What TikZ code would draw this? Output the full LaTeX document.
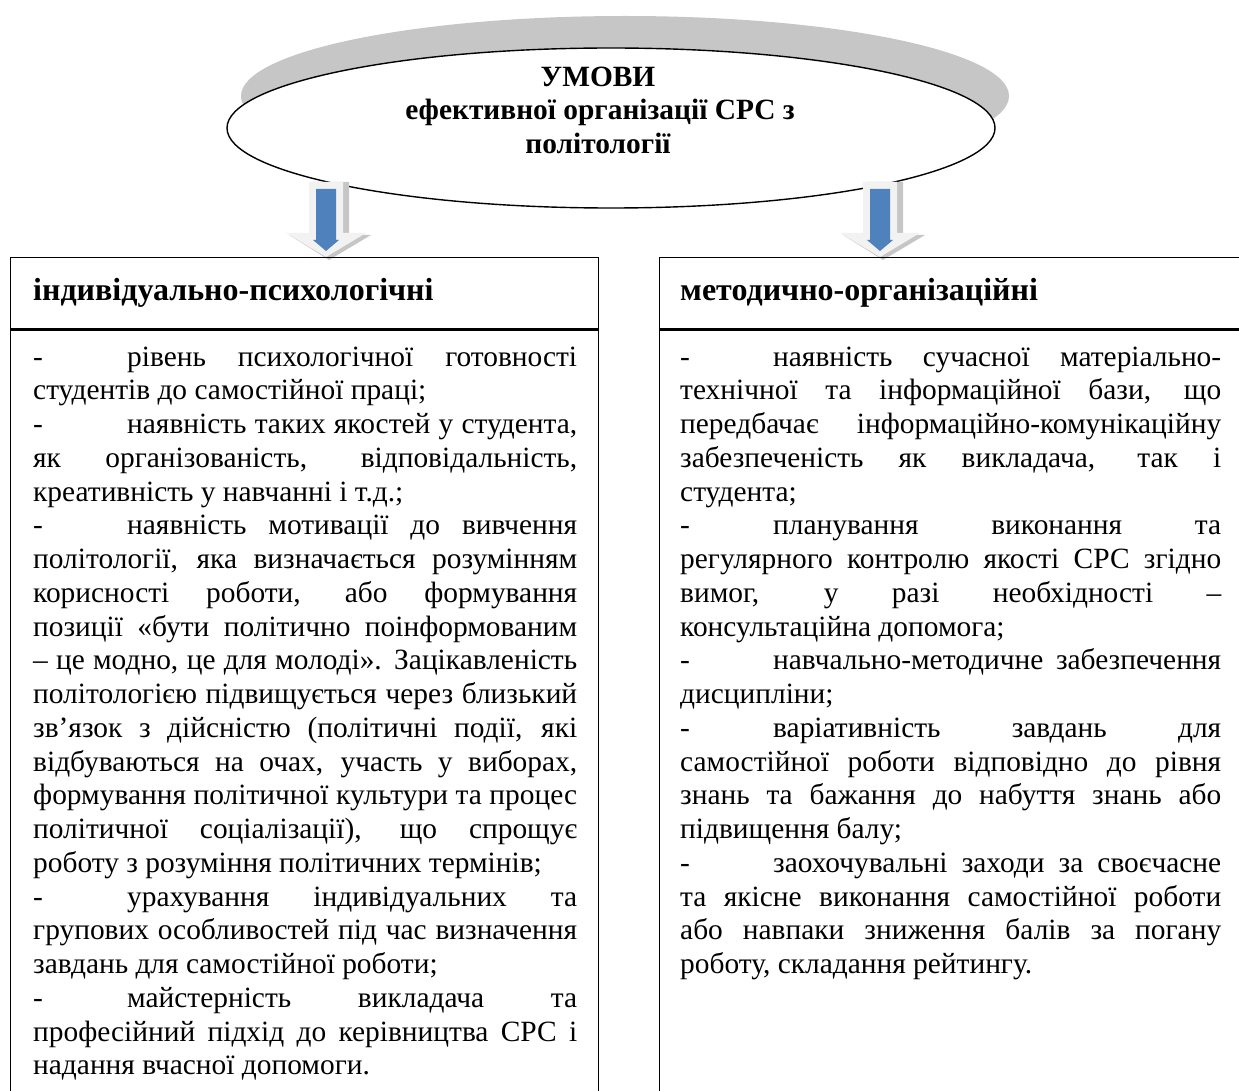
\documentclass[tikz,border=0pt]{standalone}
\usepackage{fontspec}
\setmainfont{Liberation Serif}
\usetikzlibrary{shapes.geometric,calc}
\definecolor{arrowblue}{HTML}{4F81BD}
\definecolor{arrowlight}{HTML}{F2F2F2}
\newcommand\bodyfont{\fontsize{29.4}{34}\selectfont}
\newcommand\headfont{\fontsize{32}{36}\selectfont\bfseries}
\newcommand\yb{366}
\newcommand\ls{33.76}
% justified line: name, x, index, width, text
\newcommand\linej[5]{\node[txt] (#1) at (#2,{\yb+(#3-1)*\ls}) {\makebox[#4][s]{#5}};}
% last (ragged) line: name, x, index, text
\newcommand\linel[4]{\node[txt] (#1) at (#2,{\yb+(#3-1)*\ls}) {#4};}
% dash line: name, dash x, tab x, index, width, text
\newcommand\lined[6]{\node[txt] (#1d) at (#2,{\yb+(#4-1)*\ls}) {-};
  \node[txt] (#1) at (#3,{\yb+(#4-1)*\ls}) {\makebox[#5][s]{#6}};}
% block arrow: shadow, light arrow, blue arrow; cx, name
\newcommand\myblockarrow[2]{%
  \coordinate (#2) at (#1,182);
  \fill[shadowgray] ($(#2)+(-14,0)$) -- ++(37,0) -- ++(0,53) -- ++(22,0) -- ++(-42,25) -- ++(-40,-25) -- ++(21,0) -- cycle;
  \fill[arrowlight] ($(#2)+(-17,0)$) -- ++(34,0) -- ++(0,51) -- ++(23,0) -- ++(-40,24) -- ++(-40,-24) -- ++(23,0) -- cycle;
  \fill[arrowblue] ($(#2)+(-10,7)$) -- ++(20,0) -- ++(0,51) -- ++(3,0) -- ++(-13,11) -- ++(-13,-11) -- ++(3,0) -- cycle;}
\begin{document}
\begin{tikzpicture}[x=1pt,y=-1pt,
  txt/.style={anchor=base west,inner sep=0pt,font=\bodyfont},
  head/.style={anchor=base west,inner sep=0pt,font=\headfont},
  ttl/.style={anchor=base,inner sep=0pt,font=\bodyfont\bfseries},
  shadowgray/.style={gray!45},
  frame/.style={draw=black,line width=1.4pt}]
\useasboundingbox (0,0) rectangle (1239,1091);
\clip (0,0) rectangle (1239,1091);
% ellipse with shadow
\node[ellipse,fill=gray!45,minimum width=768pt,minimum height=160pt,inner sep=0pt] (ellsh) at (625,96) {};
\node[ellipse,draw=black,line width=1.4pt,fill=white,minimum width=768pt,minimum height=160pt,inner sep=0pt] (ell) at (611,128) {};
\node[ttl] (t1) at (598,87) {УМОВИ};
\node[ttl] (t2) at (600,120) {ефективної організації СРС з};
\node[ttl] (t3) at (598,154) {політології};
% arrows
\myblockarrow{326}{arL}
\myblockarrow{880}{arR}
% boxes
\node[frame,rectangle,anchor=north west,minimum width=588pt,minimum height=71pt,inner sep=0pt] (lhead) at (10,257) {};
\node[frame,rectangle,anchor=north west,minimum width=588pt,minimum height=780pt,inner sep=0pt] (lbody) at (lhead.south west) {};
\node[frame,rectangle,anchor=north west,minimum width=600pt,minimum height=71pt,inner sep=0pt] (rhead) at (659,257) {};
\node[frame,rectangle,anchor=north west,minimum width=600pt,minimum height=780pt,inner sep=0pt] (rbody) at (rhead.south west) {};
\node[head] (lh) at (33,300) {індивідуально-психологічні};
\node[head] (rh) at (680,300) {методично-організаційні};
% left column
\lined{L1}{33}{127}{1}{450pt}{рівень психологічної готовності}
\linel{L2}{33}{2}{студентів до самостійної праці;}
\lined{L3}{33}{127}{3}{450pt}{наявність таких якостей у студента,}
\linej{L4}{33}{4}{544pt}{як організованість, відповідальність,}
\linel{L5}{33}{5}{креативність у навчанні і т.д.;}
\lined{L6}{33}{127}{6}{450pt}{наявність мотивації до вивчення}
\linej{L7}{33}{7}{544pt}{політології, яка визначається розумінням}
\linej{L8}{33}{8}{544pt}{корисності роботи, або формування}
\linej{L9}{33}{9}{544pt}{позиції «бути політично поінформованим}
\linej{L10}{33}{10}{544pt}{– це модно, це для молоді». Зацікавленість}
\linej{L11}{33}{11}{544pt}{політологією підвищується через близький}
\linej{L12}{33}{12}{544pt}{зв’язок з дійсністю (політичні події, які}
\linej{L13}{33}{13}{544pt}{відбуваються на очах, участь у виборах,}
\linej{L14}{33}{14}{544pt}{формування політичної культури та процес}
\linej{L15}{33}{15}{544pt}{політичної соціалізації), що спрощує}
\linel{L16}{33}{16}{роботу з розуміння політичних термінів;}
\lined{L17}{33}{127}{17}{450pt}{урахування індивідуальних та}
\linej{L18}{33}{18}{544pt}{групових особливостей під час визначення}
\linel{L19}{33}{19}{завдань для самостійної роботи;}
\lined{L20}{33}{127}{20}{450pt}{майстерність викладача та}
\linej{L21}{33}{21}{544pt}{професійний підхід до керівництва СРС і}
\linel{L22}{33}{22}{надання вчасної допомоги.}
% right column
\lined{R1}{680}{773}{1}{448pt}{наявність сучасної матеріально-}
\linej{R2}{680}{2}{541pt}{технічної та інформаційної бази, що}
\linej{R3}{680}{3}{541pt}{передбачає інформаційно-комунікаційну}
\linej{R4}{680}{4}{541pt}{забезпеченість як викладача, так і}
\linel{R5}{680}{5}{студента;}
\lined{R6}{680}{773}{6}{448pt}{планування виконання та}
\linej{R7}{680}{7}{541pt}{регулярного контролю якості СРС згідно}
\linej{R8}{680}{8}{541pt}{вимог, у разі необхідності –}
\linel{R9}{680}{9}{консультаційна допомога;}
\lined{R10}{680}{773}{10}{448pt}{навчально-методичне забезпечення}
\linel{R11}{680}{11}{дисципліни;}
\lined{R12}{680}{773}{12}{448pt}{варіативність завдань для}
\linej{R13}{680}{13}{541pt}{самостійної роботи відповідно до рівня}
\linej{R14}{680}{14}{541pt}{знань та бажання до набуття знань або}
\linel{R15}{680}{15}{підвищення балу;}
\lined{R16}{680}{773}{16}{448pt}{заохочувальні заходи за своєчасне}
\linej{R17}{680}{17}{541pt}{та якісне виконання самостійної роботи}
\linej{R18}{680}{18}{541pt}{або навпаки зниження балів за погану}
\linel{R19}{680}{19}{роботу, складання рейтингу.}
\end{tikzpicture}
\end{document}
